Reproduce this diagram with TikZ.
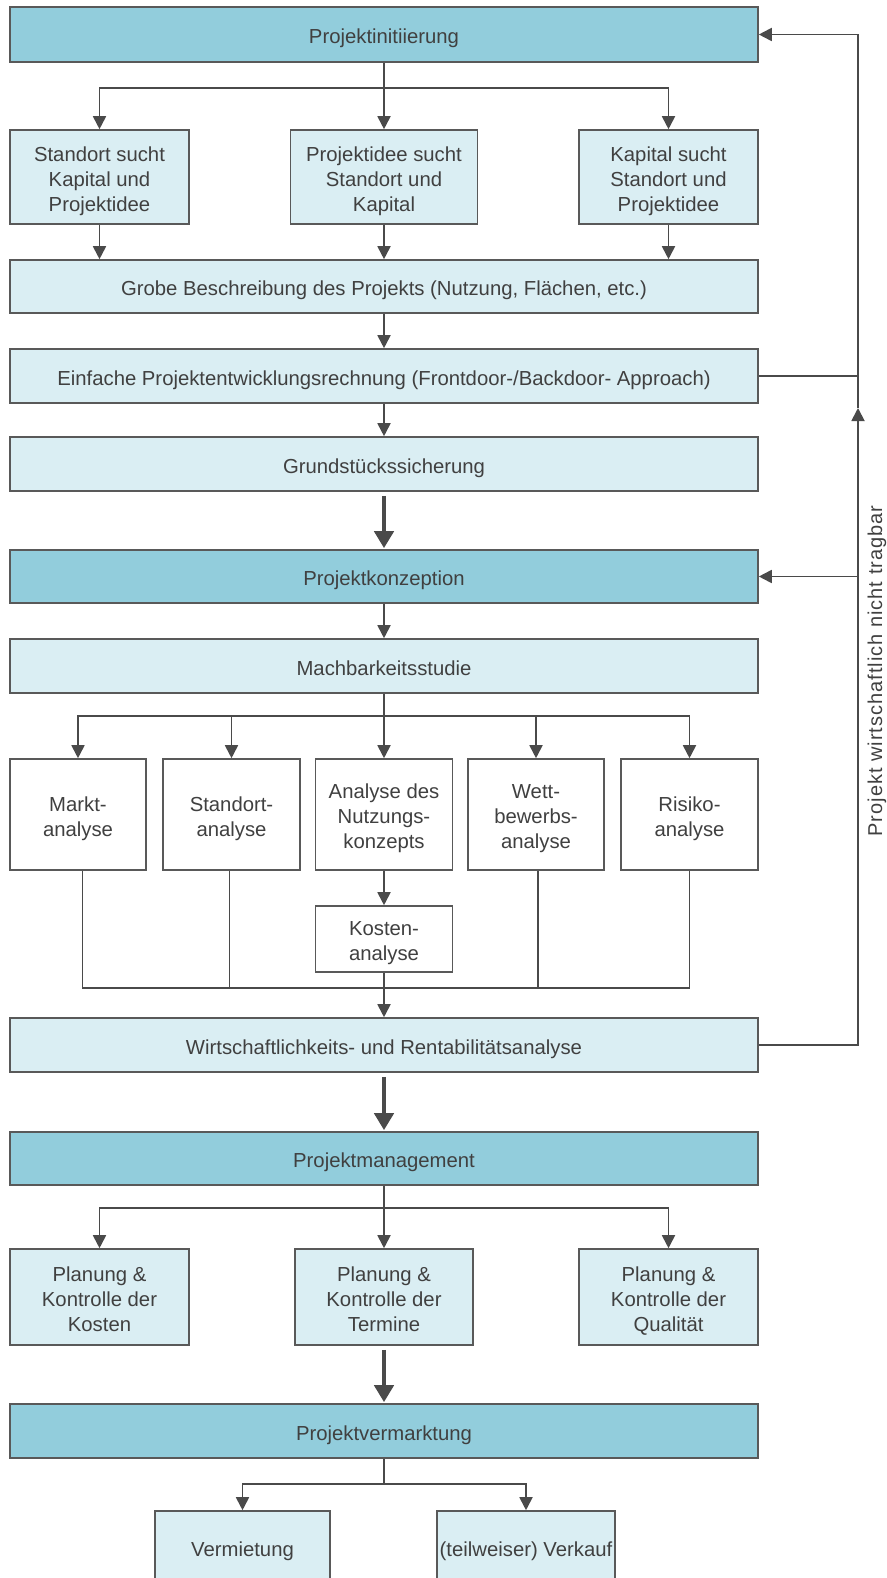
\documentclass[tikz,border=0pt]{standalone}
\usepackage{fontspec}
\setmainfont{Liberation Sans}
\newfontfamily\labelfont[LetterSpace=5]{Liberation Sans}
\usetikzlibrary{arrows.meta}
\definecolor{headfill}{HTML}{92CDDC}
\definecolor{stepfill}{HTML}{DAEEF3}
\definecolor{edgegray}{HTML}{595959}
\definecolor{linegray}{HTML}{4A4A4A}
\definecolor{textgray}{HTML}{404040}
% box text: collect it, then give it extra height and a fixed depth,
% so that it sits a little below the geometric centre of its box
\newsavebox{\boxtextbox}
\newcommand{\boxtextbegin}{\setbox\boxtextbox=\hbox\bgroup}
\newcommand{\boxtextend}{\egroup\rule[-4.5pt]{0pt}{\dimexpr\ht\boxtextbox+13pt\relax}\box\boxtextbox}

\begin{document}
\begin{tikzpicture}[x=1pt,y=-1pt,
  box/.style={draw=edgegray, line width=1.6pt, inner sep=0pt, align=center,
    text=textgray, font=\fontsize{20.3}{25}\selectfont,
    execute at begin node=\boxtextbegin, execute at end node=\boxtextend},
  head/.style={box, fill=headfill},
  stepbox/.style={box, fill=stepfill},
  plain/.style={box, fill=white},
  conn/.style={draw=linegray, line width=1.8pt},
  arr/.style={conn, -{Triangle[length=13pt,width=13pt]}},
  bigarr/.style={draw=linegray, line width=4.5pt, -{Triangle[length=17pt,width=19pt]}},
]
\useasboundingbox (0,0) rectangle (886,1578);

% Phase 1: Projektinitiierung
\node[head, minimum width=748pt, minimum height=55pt] (init) at (384,34.5) {Projektinitiierung};
\node[stepbox, minimum width=179pt, minimum height=94pt] (s1) at (99.5,177) {Standort sucht\\Kapital und\\Projektidee};
\node[stepbox, minimum width=187pt, minimum height=94pt] (s2) at (384,177) {Projektidee sucht\\Standort und\\Kapital};
\node[stepbox, minimum width=179pt, minimum height=94pt] (s3) at (668.5,177) {Kapital sucht\\Standort und\\Projektidee};
\node[stepbox, minimum width=748pt, minimum height=53pt] (grobe) at (384,286.5) {Grobe Beschreibung des Projekts (Nutzung, Flächen, etc.)};
\node[stepbox, minimum width=748pt, minimum height=54pt] (einfach) at (384,376) {Einfache Projektentwicklungsrechnung (Frontdoor-/Backdoor- Approach)};
\node[stepbox, minimum width=748pt, minimum height=54pt] (grund) at (384,464) {Grundstückssicherung};

% Phase 2: Projektkonzeption
\node[head, minimum width=748pt, minimum height=53pt] (konz) at (384,576.5) {Projektkonzeption};
\node[stepbox, minimum width=748pt, minimum height=54pt] (mach) at (384,666) {Machbarkeitsstudie};
\node[plain, minimum width=136pt, minimum height=111pt] (m1) at (78,814.5) {Markt-\\analyse};
\node[plain, minimum width=137pt, minimum height=111pt] (m2) at (231.5,814.5) {Standort-\\analyse};
\node[plain, minimum width=137pt, minimum height=111pt] (m3) at (384,814.5) {Analyse des\\Nutzungs-\\konzepts};
\node[plain, minimum width=136pt, minimum height=111pt] (m4) at (536,814.5) {Wett-\\bewerbs-\\analyse};
\node[plain, minimum width=137pt, minimum height=111pt] (m5) at (689.5,814.5) {Risiko-\\analyse};
\node[plain, minimum width=137pt, minimum height=66pt] (kosten) at (384,939) {Kosten-\\analyse};
\node[stepbox, minimum width=748pt, minimum height=54pt] (wirt) at (384,1045) {Wirtschaftlichkeits- und Rentabilitätsanalyse};

% Phase 3: Projektmanagement
\node[head, minimum width=748pt, minimum height=53pt] (mgmt) at (384,1158.5) {Projektmanagement};
\node[stepbox, minimum width=179pt, minimum height=96pt] (p1) at (99.5,1297) {Planung \&\\Kontrolle der\\Kosten};
\node[stepbox, minimum width=178pt, minimum height=96pt] (p2) at (384,1297) {Planung \&\\Kontrolle der\\Termine};
\node[stepbox, minimum width=179pt, minimum height=96pt] (p3) at (668.5,1297) {Planung \&\\Kontrolle der\\Qualität};

% Phase 4: Projektvermarktung
\node[head, minimum width=748pt, minimum height=54pt] (verm) at (384,1431) {Projektvermarktung};
\node[stepbox, minimum width=175pt, minimum height=72pt] (v1) at (242.5,1547) {Vermietung};
\node[stepbox, minimum width=178pt, minimum height=72pt] (v2) at (526,1547) {(teilweiser) Verkauf};

% Branch points
\coordinate (b1) at (384,88);
\coordinate (b2) at (384,716);
\coordinate (j)  at (384,988);
\coordinate (b3) at (384,1208);
\coordinate (b4) at (384,1484);
\coordinate (up) at (858,408);

% Connectors, phase 1
\draw[conn] (init.south) -- (b1);
\draw[arr] (b1) -| (s1.north);
\draw[arr] (b1) -- (s2.north);
\draw[arr] (b1) -| (s3.north);
\draw[arr] (s1.south) -- (s1.south |- grobe.north);
\draw[arr] (s2.south) -- (s2.south |- grobe.north);
\draw[arr] (s3.south) -- (s3.south |- grobe.north);
\draw[arr] (grobe.south) -- (einfach.north);
\draw[arr] (einfach.south) -- (grund.north);
\draw[bigarr] ([yshift=-4pt]grund.south) -- ([yshift=1pt]konz.north);

% Connectors, phase 2
\draw[arr] (konz.south) -- (mach.north);
\draw[conn] (mach.south) -- (b2);
\draw[arr] (b2) -| (m1.north);
\draw[arr] (b2) -| (m2.north);
\draw[arr] (b2) -- (m3.north);
\draw[arr] (b2) -| (m4.north);
\draw[arr] (b2) -| (m5.north);
\draw[arr] (m3.south) -- (kosten.north);
\draw[conn] ([xshift=4.5pt]m1.south) |- (j);
\draw[conn] ([xshift=-2pt]m2.south) |- (j);
\draw[conn] ([xshift=2pt]m4.south) |- (j);
\draw[conn] (m5.south) |- (j);
\draw[arr] (kosten.south) -- (wirt.north);
\draw[bigarr] ([yshift=-4pt]wirt.south) -- ([yshift=1pt]mgmt.north);

% Feedback loop
\draw[arr] (wirt.east) -| (up);
\draw[arr] (up) |- (init.east);
\draw[conn] (einfach.east) -- (einfach.east -| up);
\draw[arr] (konz.east -| up) -- (konz.east);
\node[rotate=90, text=textgray, font=\labelfont\fontsize{20}{22}\selectfont] (fblabel) at (877,671) {Projekt wirtschaftlich nicht tragbar};

% Connectors, phase 3 and 4
\draw[conn] (mgmt.south) -- (b3);
\draw[arr] (b3) -| (p1.north);
\draw[arr] (b3) -- (p2.north);
\draw[arr] (b3) -| (p3.north);
\draw[bigarr] ([yshift=-4pt]p2.south) -- ([yshift=1pt]verm.north);
\draw[conn] (verm.south) -- (b4);
\draw[arr] (b4) -| (v1.north);
\draw[arr] (b4) -| (v2.north);
\end{tikzpicture}
\end{document}
